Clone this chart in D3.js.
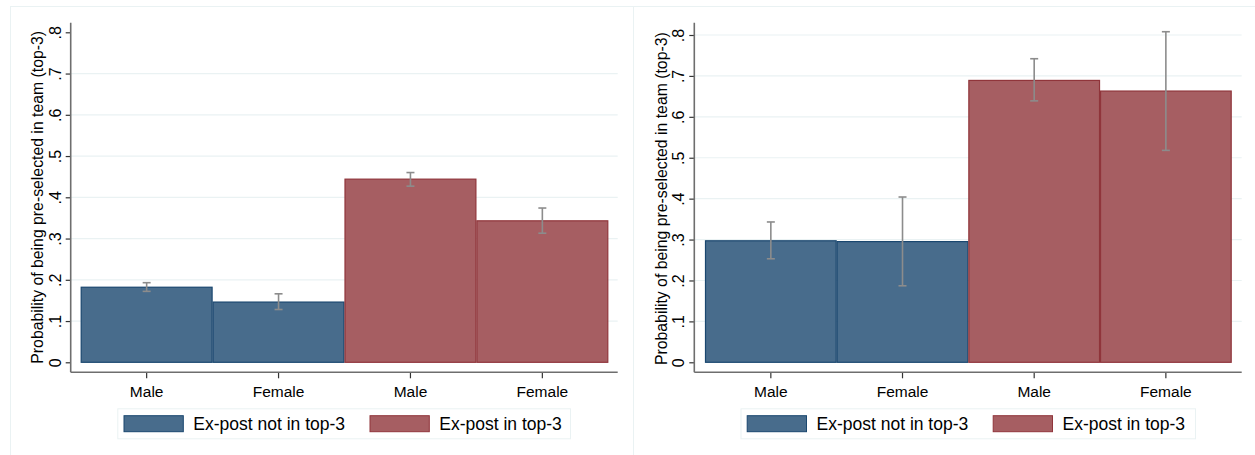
<!DOCTYPE html>
<html>
<head>
<meta charset="utf-8">
<script src="https://cdn.jsdelivr.net/npm/d3@7"></script>
<style>
  html, body { margin: 0; padding: 0; background: #ffffff; }
  svg { display: block; font-family: "Liberation Sans", Arial, sans-serif; }
</style>
</head>
<body>
<svg id="chart" width="1255" height="455"></svg>
<script>
// ---- data ----
const categories = ["Male", "Female", "Male", "Female"];
const groupOfBar = [0, 0, 1, 1];
const legendLabels = ["Ex-post not in top-3", "Ex-post in top-3"];
const yTicks = [0, 0.1, 0.2, 0.3, 0.4, 0.5, 0.6, 0.7, 0.8];
const yTitle = "Probability of being pre-selected in team (top-3)";

const leftValues = [0.182, 0.146, 0.444, 0.343];
const leftLow    = [0.172, 0.128, 0.427, 0.313];
const leftHigh   = [0.193, 0.166, 0.460, 0.374];

const rightValues = [0.297, 0.295, 0.689, 0.663];
const rightLow    = [0.253, 0.187, 0.639, 0.518];
const rightHigh   = [0.343, 0.404, 0.742, 0.808];

// ---- styles ----
const fills   = ["#486c8c", "#a65e62"];
const strokes = ["#1a476f", "#90353b"];
const gridColor = "#eaf2f3";
const errColor = "#8c8c8c";

const svg = d3.select("#chart");

const panels = [
  { values: leftValues, low: leftLow, high: leftHigh,
    frame: [10, 6, 633, 470],
    plotX: [70.7, 617.7], barX: [80.7, 608.3], yRange: [362.3, 32.3], plotTop: 22.7, xAxisY: 372.3,
    titleX: 37, legend: { x: 117.3, y: 408.3, w: 452.7, h: 30 }, gridMax: 0.7 },
  { values: rightValues, low: rightLow, high: rightHigh,
    frame: [633, 6, 1265, 470],
    plotX: [694.3, 1241.7], barX: [705, 1231.7], yRange: [362.3, 35], plotTop: 22.7, xAxisY: 372.3,
    titleX: 661, legend: { x: 740.5, y: 408.3, w: 454.5, h: 30 }, gridMax: 0.8 }
];

panels.forEach(p => {
  const g = svg.append("g");
  // panel frame
  g.append("rect")
    .attr("x", p.frame[0] + 0.5).attr("y", p.frame[1] + 0.5)
    .attr("width", p.frame[2] - p.frame[0]).attr("height", p.frame[3] - p.frame[1])
    .attr("fill", "none").attr("stroke", gridColor).attr("stroke-width", 1);

  const x = d3.scaleBand().domain(d3.range(categories.length)).range(p.barX).padding(0);
  const y = d3.scaleLinear().domain([0, 0.8]).range(p.yRange);

  // gridlines
  g.append("g").selectAll("line")
    .data(yTicks.filter(t => t > 0 && t <= p.gridMax + 1e-9))
    .join("line")
    .attr("x1", p.plotX[0]).attr("x2", p.plotX[1])
    .attr("y1", d => y(d)).attr("y2", d => y(d))
    .attr("stroke", gridColor).attr("stroke-width", 1.2);

  // bars
  g.append("g").selectAll("rect")
    .data(p.values)
    .join("rect")
    .attr("x", (d, i) => x(i) + 0.5)
    .attr("y", d => y(d))
    .attr("width", x.bandwidth() - 1)
    .attr("height", d => y(0) - y(d))
    .attr("fill", (d, i) => fills[groupOfBar[i]])
    .attr("stroke", (d, i) => strokes[groupOfBar[i]])
    .attr("stroke-width", 1.2);

  // error bars
  const eb = g.append("g").attr("stroke", errColor).attr("stroke-width", 1.6);
  p.values.forEach((v, i) => {
    const cx = x(i) + x.bandwidth() / 2;
    eb.append("line").attr("x1", cx).attr("x2", cx).attr("y1", y(p.low[i])).attr("y2", y(p.high[i]));
    [p.low[i], p.high[i]].forEach(e => {
      eb.append("line").attr("x1", cx - 4).attr("x2", cx + 4).attr("y1", y(e)).attr("y2", y(e));
    });
  });

  // y axis
  const yAxis = d3.axisLeft(y).tickValues(yTicks).tickSize(5).tickPadding(4)
    .tickFormat(d => d === 0 ? "0" : d3.format(".1f")(d).replace(/^0/, ""));
  const ya = g.append("g").attr("transform", `translate(${p.plotX[0]},0)`).call(yAxis);
  ya.select(".domain").remove();
  ya.selectAll(".tick line").attr("stroke", "#333").attr("stroke-width", 1.2);
  ya.selectAll(".tick text")
    .attr("transform", "rotate(-90)")
    .attr("x", 0).attr("y", -10)
    .attr("dy", "0em")
    .attr("text-anchor", "middle")
    .attr("font-size", 16).attr("fill", "#000")
    .attr("font-family", "Liberation Sans, Arial, sans-serif");

  // x axis
  const xAxis = d3.axisBottom(x).tickSize(6).tickPadding(8).tickFormat(i => categories[i]);
  const xa = g.append("g").attr("transform", `translate(0,${p.xAxisY})`).call(xAxis);
  xa.select(".domain").remove();
  xa.selectAll(".tick line").attr("stroke", "#333").attr("stroke-width", 1.2);
  xa.selectAll(".tick text").attr("font-size", 15.5).attr("fill", "#000")
    .attr("font-family", "Liberation Sans, Arial, sans-serif");

  // axis lines
  g.append("line").attr("x1", p.plotX[0]).attr("x2", p.plotX[0])
    .attr("y1", p.plotTop).attr("y2", p.xAxisY)
    .attr("stroke", "#6e6e6e").attr("stroke-width", 1.6);
  g.append("line").attr("x1", p.plotX[0]).attr("x2", p.plotX[1])
    .attr("y1", p.xAxisY).attr("y2", p.xAxisY)
    .attr("stroke", "#6e6e6e").attr("stroke-width", 1.6);

  // y title
  g.append("text")
    .attr("transform", `translate(${p.titleX},${(p.yRange[0] + p.yRange[1]) / 2}) rotate(-90)`)
    .attr("text-anchor", "middle").attr("dy", "0.35em")
    .attr("font-size", 15.8).attr("fill", "#000")
    .text(yTitle);

  // legend
  const L = p.legend;
  const lg = g.append("g");
  lg.append("rect").attr("x", L.x + 0.5).attr("y", L.y + 0.5).attr("width", L.w).attr("height", L.h)
    .attr("fill", "#fff").attr("stroke", gridColor).attr("stroke-width", 1);
  const offs = [{ sw: 6.7, tx: 76 }, { sw: 252.7, tx: 322 }];
  legendLabels.forEach((lab, k) => {
    lg.append("rect").attr("x", L.x + offs[k].sw).attr("y", L.y + 7.4)
      .attr("width", 59.3).attr("height", 16)
      .attr("fill", fills[k]).attr("stroke", strokes[k]).attr("stroke-width", 1);
    lg.append("text").attr("x", L.x + offs[k].tx).attr("y", L.y + 15.5)
      .attr("dy", "0.35em").attr("font-size", 17.5).attr("fill", "#000").text(lab);
  });
});
</script>
</body>
</html>
